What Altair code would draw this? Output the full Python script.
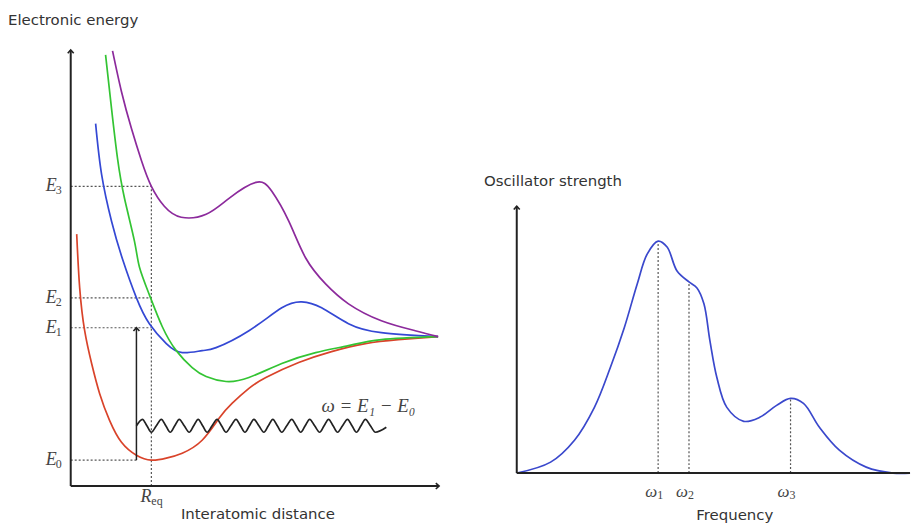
import altair as alt
import pandas as pd

# ---------------- data ----------------
# Left panel: potential energy curves (x = interatomic distance, y = electronic energy; arbitrary units)
red_x = [6, 9, 14, 21, 29, 39, 51, 66, 81, 96, 112, 132, 149, 162, 179, 196, 229, 262, 296, 329, 369]
red_y = [253, 199, 156, 123, 93, 66, 44, 31, 26, 28, 33, 46, 68, 83, 98, 109, 124, 135, 143, 147, 150]
blue_x = [25, 31, 41, 52, 66, 79, 96, 112, 132, 146, 179, 212, 232, 252, 279, 312, 369]
blue_y = [364, 313, 266, 228, 189, 163, 143, 134, 136, 139, 156, 179, 185, 179, 163, 154, 150]
green_x = [35, 41, 47, 54, 64, 69, 79, 92, 106, 122, 136, 156, 179, 212, 246, 279, 312, 369]
green_y = [433, 379, 329, 289, 246, 220, 192, 160, 136, 119, 110, 105, 109, 123, 134, 141, 147, 150]
purple_x = [42, 51, 61, 71, 81, 94, 111, 136, 159, 186, 202, 219, 236, 256, 279, 312, 346, 369]
purple_y = [437, 396, 359, 327, 301, 281, 270, 273, 289, 305, 296, 266, 229, 203, 183, 166, 156, 150]

level_names = ["3", "2", "1", "0"]
level_y = [301, 189, 159, 26]
level_end = [81, 81, 81, 66]
req_x = 81
arrow_x = 66

wave_x = [66, 72, 76.5, 81, 86, 91, 95.5, 100, 104.5, 109, 114, 119, 123.5, 128, 132.5,
          137, 142, 147, 151.5, 156, 161, 166, 170.5, 175, 179.5, 184, 189, 194, 198.5,
          203, 207.5, 212, 217, 222, 226.5, 231, 235.5, 240, 245, 250, 254.5, 259, 263.5,
          268, 273, 278, 282.5, 287, 291.5, 296, 301, 306, 317]
wave_y = [60.5, 67, 60.5, 54, 60.5, 67, 60.5, 54, 60.5, 67, 60.5, 54, 60.5, 67, 60.5,
          54, 60.5, 67, 60.5, 54, 60.5, 67, 60.5, 54, 60.5, 67, 60.5, 54, 60.5,
          67, 60.5, 54, 60.5, 67, 60.5, 54, 60.5, 67, 60.5, 54, 60.5, 67, 60.5,
          54, 60.5, 67, 60.5, 54, 60.5, 67, 60.5, 54, 59]

# Right panel: absorption spectrum (x = frequency, y = oscillator strength)
spec_x = [0, 34, 58, 78, 94, 108, 121, 131, 142, 151, 161, 173, 181, 188,
          194, 201, 211, 228, 244, 261, 275, 288, 304, 324, 351, 378, 395]
spec_y = [0, 11, 33, 66, 106, 146, 190, 220, 233, 227, 203, 192, 186, 170,
          133, 96, 66, 52, 56, 68, 75, 70, 46, 23, 6, 0, 0]
omega_names = ["1", "2", "3"]
omega_x = [142, 173, 275]
omega_y = [233, 192, 75]

# ---------------- styles ----------------
AX = "#222222"
DOT = "#555555"
LBL = "#444444"
SERIF = "Liberation Serif"
SANS = "DejaVu Sans"
UP = "M-1,1.1L0,0L1,1.1"
RIGHT = "M-1.1,-1L0,0L-1.1,1"

# ---------------- left panel ----------------
xs = alt.Scale(domain=[0, 370], nice=False, zero=False)
ys = alt.Scale(domain=[0, 438], nice=False, zero=False)

def X(f):
    return alt.X(f, type="quantitative", scale=xs, axis=None)

def Y(f):
    return alt.Y(f, type="quantitative", scale=ys, axis=None)

curves = pd.concat([
    pd.DataFrame({"x": red_x, "y": red_y, "c": "ground"}),
    pd.DataFrame({"x": blue_x, "y": blue_y, "c": "first"}),
    pd.DataFrame({"x": green_x, "y": green_y, "c": "second"}),
    pd.DataFrame({"x": purple_x, "y": purple_y, "c": "third"}),
])
levels = pd.DataFrame({"x0": [0] * 4, "x1": level_end, "y": level_y,
                       "n": level_names, "lx": [-14] * 4, "ly": [v - 4 for v in level_y]})
req = pd.DataFrame({"x": [req_x], "y0": [0], "y1": [level_y[0]]})
arrow = pd.DataFrame({"x": [arrow_x], "y0": [level_y[3]], "y1": [level_y[2]]})
wave = pd.DataFrame({"x": wave_x, "y": wave_y})
l_axes = pd.DataFrame({"x0": [0, 0], "x1": [0, 370], "y0": [0, 0], "y1": [438, 0]})
l_up = pd.DataFrame({"x": [0, arrow_x], "y": [438, level_y[2]]})
l_right = pd.DataFrame({"x": [370], "y": [0]})
l_texts = pd.DataFrame({
    "x": [-63, 188],
    "y": [468, -28],
    "t": ["Electronic energy", "Interatomic distance"],
})

lev_rules = alt.Chart(levels).mark_rule(color=DOT, strokeDash=[2, 2], strokeWidth=1.2).encode(
    x=X("x0"), x2="x1", y=Y("y"))
req_rule = alt.Chart(req).mark_rule(color=DOT, strokeDash=[2, 2], strokeWidth=1.2).encode(
    x=X("x"), y=Y("y0"), y2="y1")
curve_lines = alt.Chart(curves).mark_line(strokeWidth=1.7, interpolate="natural").encode(
    x=X("x"), y=Y("y"),
    color=alt.Color("c:N", legend=None, scale=alt.Scale(
        domain=["ground", "first", "second", "third"],
        range=["#d9432a", "#3448d4", "#33c433", "#8c2a9c"])),
)
wave_line = alt.Chart(wave).mark_line(color=AX, strokeWidth=1.7, interpolate="monotone").encode(
    x=X("x"), y=Y("y"))
arrow_rule = alt.Chart(arrow).mark_rule(color=AX, strokeWidth=1.5).encode(
    x=X("x"), y=Y("y0"), y2="y1")
l_axis_rules = alt.Chart(l_axes).mark_rule(color=AX, strokeWidth=2).encode(
    x=X("x0"), x2="x1", y=Y("y0"), y2="y1")
l_up_heads = alt.Chart(l_up).mark_point(shape=UP, size=36, filled=False, color=AX,
                                        strokeWidth=1.6, opacity=1).encode(x=X("x"), y=Y("y"))
l_right_heads = alt.Chart(l_right).mark_point(shape=RIGHT, size=36, filled=False, color=AX,
                                              strokeWidth=1.6, opacity=1).encode(x=X("x"), y=Y("y"))
e_main = alt.Chart(levels).mark_text(align="right", baseline="middle", font=SERIF,
                                     fontStyle="italic", fontSize=18, color=LBL).encode(
    x=X("lx"), y=Y("y"), text=alt.value("E"))
e_sub = alt.Chart(levels).mark_text(align="left", baseline="middle", font=SERIF,
                                    fontSize=12, color=LBL, dx=-1).encode(
    x=X("lx"), y=Y("ly"), text="n:N")
req_main = alt.Chart(req).mark_text(align="right", baseline="middle", font=SERIF,
                                    fontStyle="italic", fontSize=18, color=LBL, dy=11).encode(
    x=X("x"), y=Y("y0"), text=alt.value("R"))
req_sub = alt.Chart(req).mark_text(align="left", baseline="middle", font=SERIF,
                                   fontSize=12, color=LBL, dy=15).encode(
    x=X("x"), y=Y("y0"), text=alt.value("eq"))
annot = alt.Chart(pd.DataFrame({"x": [299], "y": [80], "t": ["ω = E₁ − E₀"]})).mark_text(
    align="center", baseline="middle", font=SERIF, fontStyle="italic", fontSize=19,
    color=LBL).encode(x=X("x"), y=Y("y"), text="t:N")
l_title1 = alt.Chart(l_texts.iloc[[0]]).mark_text(align="left", baseline="middle", font=SANS,
                                                  fontSize=15, color="#333333").encode(
    x=X("x"), y=Y("y"), text="t:N")
l_title2 = alt.Chart(l_texts.iloc[[1]]).mark_text(align="center", baseline="middle", font=SANS,
                                                  fontSize=15, color="#333333").encode(
    x=X("x"), y=Y("y"), text="t:N")

left = alt.layer(lev_rules, req_rule, curve_lines, wave_line, arrow_rule, l_axis_rules,
                 l_up_heads, l_right_heads, e_main, e_sub, req_main, req_sub, annot,
                 l_title1, l_title2).properties(width=370, height=438)

# ---------------- right panel ----------------
xs2 = alt.Scale(domain=[0, 395], nice=False, zero=False)
ys2 = alt.Scale(domain=[0, 425], nice=False, zero=False)

def X2(f):
    return alt.X(f, type="quantitative", scale=xs2, axis=None)

def Y2(f):
    return alt.Y(f, type="quantitative", scale=ys2, axis=None)

spec = pd.DataFrame({"x": spec_x, "y": spec_y})
omegas = pd.DataFrame({"x": omega_x, "y0": [0] * 3, "y1": omega_y, "n": omega_names,
                       "lx": [v - 1 for v in omega_x], "ly": [-19] * 3, "sy": [-22] * 3})
r_axes = pd.DataFrame({"x0": [0, 0], "x1": [0, 395], "y0": [0, 0], "y1": [268, 0]})
r_up = pd.DataFrame({"x": [0], "y": [268]})
r_texts = pd.DataFrame({"x": [-33, 219], "y": [293, -42],
                        "t": ["Oscillator strength", "Frequency"]})

om_rules = alt.Chart(omegas).mark_rule(color=DOT, strokeDash=[2, 2], strokeWidth=1.2).encode(
    x=X2("x"), y=Y2("y0"), y2="y1")
spec_line = alt.Chart(spec).mark_line(color="#3a48cc", strokeWidth=1.7,
                                      interpolate="catmull-rom").encode(x=X2("x"), y=Y2("y"))
r_axis_rules = alt.Chart(r_axes).mark_rule(color=AX, strokeWidth=2).encode(
    x=X2("x0"), x2="x1", y=Y2("y0"), y2="y1")
r_up_heads = alt.Chart(r_up).mark_point(shape=UP, size=36, filled=False, color=AX,
                                        strokeWidth=1.6, opacity=1).encode(x=X2("x"), y=Y2("y"))
om_main = alt.Chart(omegas).mark_text(align="right", baseline="middle", font=SERIF,
                                      fontStyle="italic", fontSize=17, color=LBL).encode(
    x=X2("lx"), y=Y2("ly"), text=alt.value("ω"))
om_sub = alt.Chart(omegas).mark_text(align="left", baseline="middle", font=SERIF,
                                     fontSize=12, color=LBL).encode(
    x=X2("lx"), y=Y2("sy"), text="n:N")
r_title1 = alt.Chart(r_texts.iloc[[0]]).mark_text(align="left", baseline="middle", font=SANS,
                                                  fontSize=15, color="#333333").encode(
    x=X2("x"), y=Y2("y"), text="t:N")
r_title2 = alt.Chart(r_texts.iloc[[1]]).mark_text(align="center", baseline="middle", font=SANS,
                                                  fontSize=15, color="#333333").encode(
    x=X2("x"), y=Y2("y"), text="t:N")

right = alt.layer(om_rules, spec_line, r_axis_rules, r_up_heads, om_main, om_sub,
                  r_title1, r_title2).properties(width=395, height=425)

chart = alt.hconcat(left, right, spacing=78, bounds="flush").properties(
    padding={"left": 0, "top": 3, "right": 0, "bottom": 0}
).configure_view(strokeWidth=0)

chart.save("out.html", embed_options={"renderer": "svg", "actions": False})
